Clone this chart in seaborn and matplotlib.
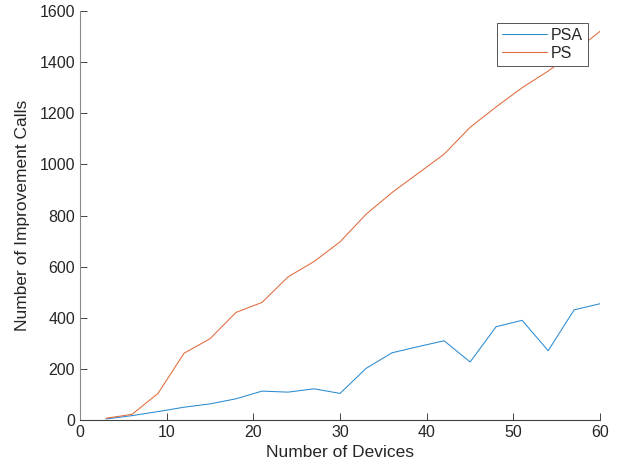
"""
Improvement calls vs number of devices (PSA vs PS)
"""

import matplotlib
matplotlib.use("Agg")
import matplotlib.pyplot as plt
import pandas as pd
import seaborn as sns

devices = [3, 6, 9, 12, 15, 18, 21, 24, 27, 30, 33, 36, 39, 42, 45, 48, 51, 54, 57, 60]
psa_calls = [4, 17, 33, 50, 63, 83, 113, 109, 122, 104, 202, 263, 287, 310, 227, 365, 390, 271, 431, 455]
ps_calls = [7, 22, 104, 261, 318, 421, 460, 560, 620, 697, 805, 890, 965, 1040, 1145, 1225, 1300, 1365, 1440, 1521]
series_names = ["PSA", "PS"]

sns.set_style("white")
plt.rcParams["font.family"] = ["Liberation Sans", "DejaVu Sans"]

df = pd.DataFrame({
    "devices": devices * 2,
    "calls": psa_calls + ps_calls,
    "method": [series_names[0]] * len(devices) + [series_names[1]] * len(devices),
})

fig = plt.figure(figsize=(6.2, 4.75), dpi=100)
ax = fig.add_axes([0.129, 0.1158, 0.839, 0.861])
sns.lineplot(data=df, x="devices", y="calls", hue="method",
             palette=["#2a8ad0", "#e06a3a"], linewidth=0.75, ax=ax)

axis_col = "#262626"
ax.set_xlim(0, 60)
ax.set_ylim(0, 1600)
ax.set_xticks(range(0, 61, 10))
ax.set_yticks(range(0, 1601, 200))
ax.set_xlabel("Number of Devices", fontsize=12.5, color=axis_col, labelpad=4)
ax.set_ylabel("Number of Improvement Calls", fontsize=12.5, color=axis_col, labelpad=7)
ax.tick_params(bottom=True, left=True, direction="in", length=5, width=0.6,
               colors=axis_col, labelsize=11.5)
sns.despine(ax=ax)
ax.spines["left"].set_color("#8a8a8a")
ax.spines["bottom"].set_color("#404040")
for s in ["left", "bottom"]:
    ax.spines[s].set_linewidth(0.8)

leg = ax.legend(loc="upper right", bbox_to_anchor=(0.976, 0.971), fontsize=11.5,
                fancybox=False, framealpha=1, borderpad=0.3, handlelength=2.8,
                handletextpad=0.25, labelspacing=0.2, borderaxespad=0)
leg.get_frame().set_edgecolor("#555555")
leg.get_frame().set_linewidth(0.7)

fig.savefig("out.png", dpi=100)
